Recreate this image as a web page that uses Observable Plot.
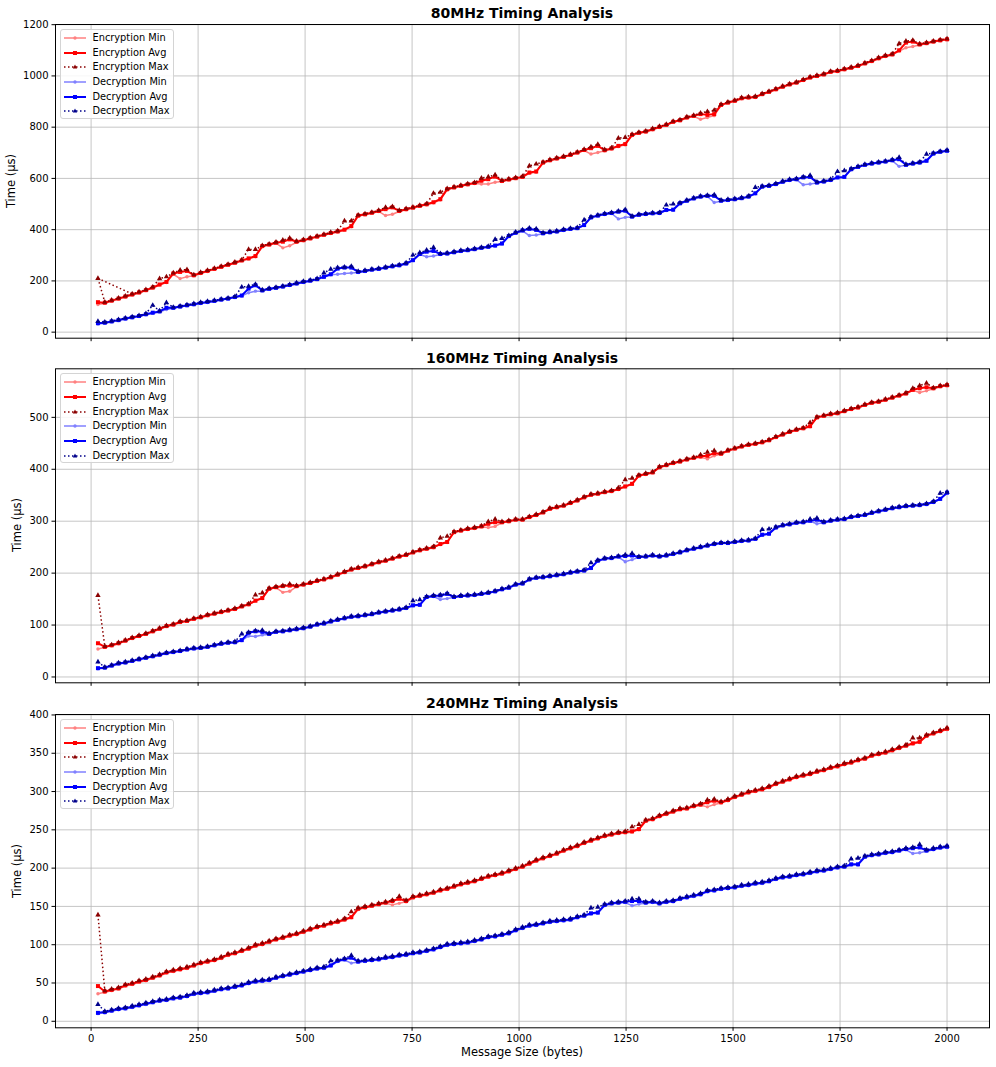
<!DOCTYPE html>
<html><head><meta charset="utf-8">
<script src="https://cdn.jsdelivr.net/npm/d3@7"></script>
<script src="https://cdn.jsdelivr.net/npm/@observablehq/plot@0.6"></script>
<style>
html,body{margin:0;padding:0;background:#fff;overflow:hidden;}
#fig{position:relative;width:996px;height:1067px;font-family:"DejaVu Sans",sans-serif;color:#000;}
#fig svg.plotpanel{position:absolute;left:0;}
.title{position:absolute;font-weight:bold;font-size:14px;line-height:1;transform:translate(-50%,-50%);white-space:nowrap;}
.ylabel{position:absolute;font-size:11.5px;line-height:1;transform:translate(-50%,-50%) rotate(-90deg);white-space:nowrap;}
.xlabel{position:absolute;font-size:11.5px;line-height:1;transform:translate(-50%,-50%);white-space:nowrap;}
.legend{position:absolute;width:114px;height:90px;border:1px solid #d4d4d4;border-radius:3px;background:rgba(255,255,255,0.85);box-sizing:border-box;}
.legend .item{position:absolute;left:0;height:12px;width:112px;}
.legend .item svg{position:absolute;left:2.5px;top:1px;}
.legend .item span{position:absolute;left:31.5px;top:0;font-size:9.8px;line-height:12px;white-space:nowrap;}
</style>
</head><body>
<div id="fig"></div>
<script>
const sizes = [
16,32,48,64,80,96,112,128,
144,160,176,192,208,224,240,256,
272,288,304,320,336,352,368,384,
400,416,432,448,464,480,496,512,
528,544,560,576,592,608,624,640,
656,672,688,704,720,736,752,768,
784,800,816,832,848,864,880,896,
912,928,944,960,976,992,1008,1024,
1040,1056,1072,1088,1104,1120,1136,1152,
1168,1184,1200,1216,1232,1248,1264,1280,
1296,1312,1328,1344,1360,1376,1392,1408,
1424,1440,1456,1472,1488,1504,1520,1536,
1552,1568,1584,1600,1616,1632,1648,1664,
1680,1696,1712,1728,1744,1760,1776,1792,
1808,1824,1840,1856,1872,1888,1904,1920,
1936,1952,1968,1984,2000];

// ---- 80 MHz ----
const enc80Min = [
108,113,121,129,137,145,153,162,
172,184,194,226,209,216,220,229,
237,245,253,261,269,278,285,294,
333,340,347,329,337,351,357,364,
371,378,385,391,398,411,452,458,
464,471,455,460,471,478,484,491,
497,505,516,555,563,569,575,580,
578,578,585,588,594,599,604,620,
624,660,669,676,682,690,699,709,
695,701,708,715,724,731,767,776,
781,790,799,807,819,825,836,842,
831,838,845,885,894,901,911,914,
916,927,936,946,956,965,972,982,
992,998,1004,1014,1017,1024,1030,1037,
1047,1056,1067,1076,1082,1097,1110,1115,
1121,1126,1132,1137,1141];
const enc80Avg = [
117,115,123,131,139,147,155,164,
174,186,196,229,235,239,222,231,
239,247,255,263,271,280,288,297,
336,342,349,353,362,353,359,366,
373,380,387,393,400,414,455,460,
466,473,480,487,473,480,486,493,
499,507,519,558,565,571,577,582,
591,597,607,590,596,601,606,623,
627,662,671,678,684,692,701,711,
718,727,710,717,727,734,770,778,
783,792,801,809,821,827,838,844,
851,848,851,887,896,903,913,916,
918,929,938,948,958,967,974,984,
994,1000,1006,1016,1019,1026,1032,1039,
1049,1058,1069,1078,1084,1100,1130,1134,
1123,1128,1134,1139,1143];
const enc80Max = [
210,117,125,133,141,149,157,166,
176,209,216,231,242,244,224,233,
241,249,257,265,273,282,323,323,
338,344,351,359,367,355,361,368,
375,382,389,395,434,434,457,462,
468,475,487,490,475,482,488,495,
501,542,546,560,567,573,579,584,
601,606,614,592,598,603,608,649,
656,664,673,680,686,694,703,713,
723,733,712,719,757,760,772,780,
785,794,803,811,823,829,840,846,
855,861,866,889,898,905,915,918,
920,931,940,950,960,969,976,986,
996,1002,1008,1018,1021,1028,1034,1041,
1051,1060,1071,1080,1086,1126,1136,1139,
1125,1130,1136,1141,1145];
const enc80MaxExtraLink = [16, 96];
const dec80Min = [
32,35,40,45,51,56,61,68,
74,79,88,93,98,103,107,112,
116,120,125,129,135,141,154,160,
161,167,171,176,182,188,194,199,
205,214,224,226,229,231,233,237,
242,245,250,255,259,266,279,303,
294,297,303,305,310,315,318,322,
327,331,336,344,373,386,395,377,
379,384,388,391,397,401,404,416,
446,453,459,463,442,448,449,456,
459,462,463,475,476,501,511,520,
527,530,506,511,514,517,521,527,
540,566,569,576,585,592,595,575,
578,582,586,592,602,604,634,643,
651,656,660,664,669,647,651,656,
660,667,695,702,706];
const dec80Avg = [
35,37,42,47,53,58,63,70,
76,81,95,95,100,105,109,114,
118,122,127,131,137,143,170,183,
163,169,173,178,184,190,196,201,
207,216,226,248,252,252,235,239,
244,247,252,257,261,268,281,305,
314,317,305,307,312,317,320,324,
329,333,338,346,375,388,397,403,
399,386,390,393,399,403,406,418,
448,455,461,465,470,474,451,458,
461,464,465,477,478,503,513,522,
529,532,532,513,516,519,523,529,
542,568,571,578,587,594,597,604,
606,584,588,594,604,606,636,645,
653,658,662,666,671,675,653,658,
662,669,697,704,708];
const dec80Max = [
42,39,44,49,55,60,65,72,
105,83,115,97,102,107,111,116,
120,124,129,133,139,176,179,187,
165,171,175,180,186,192,198,203,
209,231,246,252,254,257,237,241,
246,249,254,259,263,270,301,310,
320,331,307,309,314,319,322,326,
331,335,362,366,377,390,399,406,
403,388,392,395,401,405,408,438,
450,457,463,467,472,478,453,460,
463,466,467,496,500,505,515,524,
531,534,536,515,518,521,525,531,
565,570,573,580,589,596,599,606,
612,586,590,596,627,630,638,647,
655,660,664,668,673,682,655,660,
664,695,699,706,710];

// ---- 160 MHz ----
const enc160Min = [
54,57,60,64,69,74,78,82,
87,92,97,100,105,107,111,114,
118,121,124,127,130,135,139,146,
151,169,172,163,165,174,177,180,
184,187,191,196,201,206,209,212,
216,220,223,227,231,234,239,243,
246,249,255,259,278,281,284,286,
289,288,290,297,299,302,302,307,
311,316,323,326,329,334,339,345,
350,352,355,357,361,366,371,387,
390,393,403,407,411,414,418,421,
423,420,426,429,435,439,443,446,
448,451,455,461,466,471,475,478,
482,499,502,505,507,511,515,518,
523,527,529,533,537,541,545,552,
548,551,555,559,561];
const enc160Avg = [
65,58,61,65,70,75,79,83,
88,93,98,101,106,108,112,115,
119,122,125,128,131,136,140,147,
152,170,173,175,176,175,178,181,
185,188,192,197,202,207,210,213,
217,221,224,228,232,235,240,244,
247,250,256,260,279,282,285,287,
290,295,298,298,300,303,303,308,
312,317,324,327,330,335,340,346,
351,353,356,358,362,367,372,388,
391,394,404,408,412,415,419,422,
425,426,431,430,436,440,444,447,
449,452,456,462,467,472,476,479,
483,500,503,506,508,512,516,519,
524,528,530,534,538,542,546,553,
556,558,556,560,562];
const enc160Max = [
157,59,62,66,71,76,80,84,
89,94,99,102,107,109,113,116,
120,123,126,129,132,137,141,158,
162,171,174,176,179,176,179,182,
186,189,193,198,203,208,211,214,
218,222,225,229,233,236,241,245,
248,251,268,271,280,283,286,288,
291,299,304,299,301,304,304,309,
313,318,325,328,331,336,341,347,
352,354,357,359,364,380,383,389,
392,395,405,409,413,416,420,423,
428,433,436,431,437,441,445,448,
450,453,457,463,468,473,477,480,
490,501,504,507,509,513,517,520,
525,529,531,535,539,543,547,556,
561,566,557,561,563];
const dec160Min = [
16,17,21,25,27,30,33,36,
39,42,45,47,49,52,54,55,
57,60,63,65,66,70,79,78,
81,82,86,87,89,91,93,96,
100,102,106,109,112,115,116,118,
120,123,125,127,129,132,137,138,
153,155,149,151,153,155,156,157,
159,161,164,168,171,177,179,187,
190,191,193,195,197,200,202,204,
209,223,227,228,231,222,226,230,
231,233,231,233,236,239,243,246,
249,252,255,257,257,259,261,262,
265,273,275,287,291,293,296,297,
300,295,297,300,302,303,307,309,
311,315,318,321,324,326,328,329,
330,332,336,342,354];
const dec160Avg = [
17,18,22,26,28,31,34,37,
40,43,46,48,50,53,55,56,
58,61,64,66,67,71,85,88,
87,83,87,88,90,92,94,97,
101,103,107,110,113,116,117,119,
121,124,126,128,130,133,138,139,
154,156,157,160,154,156,157,158,
160,162,165,169,172,178,180,188,
191,192,194,196,198,201,203,205,
210,224,228,229,232,233,234,231,
232,234,232,234,237,240,244,247,
250,253,256,258,258,260,262,263,
266,274,276,288,292,294,297,298,
301,303,298,301,303,304,308,310,
312,316,319,322,325,327,329,330,
331,333,337,343,355];
const dec160Max = [
29,19,23,27,29,32,35,38,
41,44,47,49,51,54,56,57,
59,62,65,67,68,83,86,89,
90,84,88,89,91,93,95,98,
102,104,108,111,114,117,118,120,
122,125,127,129,131,134,147,149,
155,157,158,161,155,157,158,159,
161,163,166,170,173,179,181,189,
192,193,195,197,199,202,204,206,
220,225,229,230,233,235,238,232,
233,235,233,235,238,241,245,248,
251,254,257,259,259,261,263,264,
267,284,285,289,293,295,298,299,
304,306,299,302,304,305,309,311,
313,317,320,323,326,328,330,331,
332,334,338,354,356];

// ---- 240 MHz ----
const enc240Min = [
36,38,40,42,46,48,51,53,
56,59,63,65,67,69,72,75,
77,79,82,86,88,91,94,98,
100,103,106,108,111,113,116,119,
122,124,127,129,132,135,146,148,
150,152,154,152,154,156,161,163,
165,167,170,172,175,178,180,182,
185,188,190,192,195,198,201,205,
209,212,215,218,222,225,228,232,
235,238,241,243,245,246,247,250,
261,263,267,270,273,276,277,280,
282,280,283,285,288,292,295,298,
300,302,305,309,312,315,318,320,
322,325,327,330,332,335,337,340,
342,346,348,350,353,356,359,362,
364,372,375,378,381];
const enc240Avg = [
46,39,41,43,47,49,52,54,
57,60,64,66,68,70,73,76,
78,80,83,87,89,92,95,99,
101,104,107,109,112,114,117,120,
123,125,128,130,133,136,147,149,
151,153,155,157,160,157,162,164,
166,168,171,173,176,179,181,183,
186,189,191,193,196,199,202,206,
210,213,216,219,223,226,229,233,
236,239,242,244,246,247,248,251,
262,264,268,271,274,277,278,281,
283,286,288,286,289,293,296,299,
301,303,306,310,313,316,319,321,
323,326,328,331,333,336,338,341,
343,347,349,351,354,357,360,363,
365,373,376,379,382];
const enc240Max = [
139,40,42,44,48,50,53,55,
58,61,65,67,69,71,74,77,
79,81,84,88,90,93,96,100,
102,105,108,110,113,115,118,121,
124,126,129,131,134,143,148,150,
152,154,156,158,163,158,163,165,
167,169,172,174,177,180,182,184,
187,190,192,194,197,200,203,207,
211,214,217,220,224,227,230,234,
237,240,243,245,247,248,254,257,
263,265,269,272,275,278,279,282,
284,289,290,287,290,294,297,300,
302,304,307,311,314,317,320,322,
324,327,329,332,334,337,339,342,
344,348,350,352,355,358,361,370,
370,374,377,380,383];
const dec240Min = [
10,11,13,15,16,18,20,22,
24,26,27,29,30,32,35,36,
37,39,41,42,44,46,49,51,
52,53,56,58,60,62,64,66,
68,69,72,78,80,76,77,78,
79,80,82,83,85,86,88,89,
91,93,96,99,100,101,102,104,
106,109,110,112,114,118,121,124,
125,127,129,130,131,132,135,137,
140,141,151,153,154,155,151,153,
154,155,153,155,156,159,161,163,
165,169,170,172,173,174,176,177,
179,180,182,185,187,188,190,191,
193,195,196,198,200,201,204,204,
214,216,217,219,220,222,224,219,
220,222,224,226,227];
const dec240Avg = [
11,12,14,16,17,19,21,23,
25,27,28,30,31,33,36,37,
38,40,42,43,45,47,50,52,
53,54,57,59,61,63,65,67,
69,70,73,79,81,83,78,79,
80,81,83,84,86,87,89,90,
92,94,97,100,101,102,103,105,
107,110,111,113,115,119,122,125,
126,128,130,131,132,133,136,138,
141,142,152,154,155,156,157,157,
155,156,154,156,157,160,162,164,
166,170,171,173,174,175,177,178,
180,181,183,186,188,189,191,192,
194,196,197,199,201,202,205,205,
215,217,218,220,221,223,225,226,
227,223,225,227,228];
const dec240Max = [
22,13,15,17,18,20,22,24,
26,28,29,31,32,34,37,38,
39,41,43,44,46,48,51,53,
54,55,58,60,62,64,66,68,
70,71,79,80,82,86,79,80,
81,82,84,85,87,88,90,91,
93,95,98,101,102,103,104,106,
108,111,112,114,116,120,123,126,
127,129,131,132,133,134,137,139,
148,149,153,155,156,157,160,160,
156,157,155,157,158,161,163,165,
167,171,172,174,175,176,178,179,
181,182,184,187,189,190,192,193,
195,197,198,200,202,203,212,213,
216,218,219,221,222,224,226,227,
231,224,226,228,229];

const xTicks = [0,250,500,750,1000,1250,1500,1750,2000];
const yTicks80 = [0,200,400,600,800,1000,1200];
const yTicks160 = [0,100,200,300,400,500];
const yTicks240 = [0,50,100,150,200,250,300,350,400];
const seriesNames = ["Encryption Min","Encryption Avg","Encryption Max","Decryption Min","Decryption Avg","Decryption Max"];
const panelTitles = ["80MHz Timing Analysis","160MHz Timing Analysis","240MHz Timing Analysis"];
const yLabel = "Time (\u03bcs)";
const xLabel = "Message Size (bytes)";

const seriesStyle = {
  "Encryption Min": {color:"#ff8080", width:1.5, dash:null, symbol:"circle", r:1.7},
  "Encryption Avg": {color:"#ff0000", width:2, dash:null, symbol:"square", r:2.25},
  "Encryption Max": {color:"#8b0000", width:1.5, dash:"1.5,2.5", symbol:"triangle", r:2},
  "Decryption Min": {color:"#8080ff", width:1.5, dash:null, symbol:"circle", r:1.7},
  "Decryption Avg": {color:"#0000ff", width:2, dash:null, symbol:"square", r:2.25},
  "Decryption Max": {color:"#00008b", width:1.5, dash:"1.5,2.5", symbol:"triangle", r:2}
};

const panels = [
  {title:panelTitles[0], top:0, height:344, mt:24, mb:6.3, ydom:[-23.6,1200.7], yticks:yTicks80, xlabels:false,
   series:[enc80Min,enc80Avg,enc80Max,dec80Min,dec80Avg,dec80Max], extra:enc80MaxExtraLink, yl:[12.3,180.8], tl:13},
  {title:panelTitles[1], top:344, height:346, mt:24.3, mb:7.7, ydom:[-11.2,593.5], yticks:yTicks160, xlabels:false,
   series:[enc160Min,enc160Avg,enc160Max,dec160Min,dec160Avg,dec160Max], extra:null, yl:[18.3,525.3], tl:358},
  {title:panelTitles[2], top:690, height:377, mt:24, mb:39.7, ydom:[-8.5,400.6], yticks:yTicks240, xlabels:true,
   series:[enc240Min,enc240Avg,enc240Max,dec240Min,dec240Avg,dec240Max], extra:null, yl:[18.3,870.7], tl:702.8}
];

const fig = document.getElementById("fig");
const ML = 55, MR = 7;

function div(cls, text, x, y){
  const d = document.createElement("div");
  d.className = cls; d.textContent = text;
  d.style.left = x + "px"; d.style.top = y + "px";
  fig.appendChild(d); return d;
}

function legendSample(st){
  const ns = "http://www.w3.org/2000/svg";
  const s = document.createElementNS(ns,"svg");
  s.setAttribute("width","24"); s.setAttribute("height","10");
  const l = document.createElementNS(ns,"line");
  l.setAttribute("x1","0"); l.setAttribute("x2","22"); l.setAttribute("y1","5"); l.setAttribute("y2","5");
  l.setAttribute("stroke",st.color); l.setAttribute("stroke-width",st.width);
  if (st.dash) l.setAttribute("stroke-dasharray",st.dash);
  s.appendChild(l);
  let m;
  if (st.symbol==="circle"){ m=document.createElementNS(ns,"circle"); m.setAttribute("cx","11"); m.setAttribute("cy","5"); m.setAttribute("r","1.7"); }
  else if (st.symbol==="square"){ m=document.createElementNS(ns,"rect"); m.setAttribute("x","9"); m.setAttribute("y","3"); m.setAttribute("width","4"); m.setAttribute("height","4"); }
  else { m=document.createElementNS(ns,"path"); m.setAttribute("d","M11,2.6L13.2,6.6L8.8,6.6Z"); }
  m.setAttribute("fill",st.color);
  s.appendChild(m);
  return s;
}

panels.forEach(p => {
  const marks = [
    Plot.gridX(xTicks, {stroke:"#b8b8b8", strokeOpacity:1, strokeWidth:0.8}),
    Plot.gridY(p.yticks, {stroke:"#b8b8b8", strokeOpacity:1, strokeWidth:0.8})
  ];
  seriesNames.forEach((name, k) => {
    const st = seriesStyle[name];
    const vals = p.series[k];
    const rows = sizes.map((s, i) => ({size:s, v:vals[i]}));
    const lineOpts = {x:"size", y:"v", stroke:st.color, strokeWidth:st.width, strokeLinejoin:"round"};
    if (st.dash) { lineOpts.strokeDasharray = st.dash; lineOpts.strokeLinecap = "butt"; }
    marks.push(Plot.line(rows, lineOpts));
    if (p.extra && name === "Encryption Max") {
      marks.push(Plot.line(rows.filter(d => p.extra.includes(d.size)), lineOpts));
    }
    marks.push(Plot.dot(rows, {x:"size", y:"v", symbol:st.symbol, r:st.r, fill:st.color, stroke:"none"}));
  });
  marks.push(Plot.axisX(xTicks, {tickSize:3.5, tickPadding:3.5, label:null,
    tickFormat: p.xlabels ? (d => String(d)) : (() => ""), stroke:"black", fill:"black"}));
  marks.push(Plot.axisY(p.yticks, {tickSize:3.5, tickPadding:3.5, label:null,
    tickFormat: d => String(d), stroke:"black", fill:"black"}));
  marks.push(Plot.frame({stroke:"black", strokeWidth:1}));

  const svg = Plot.plot({
    width:996, height:p.height,
    marginLeft:ML, marginRight:MR, marginTop:p.mt, marginBottom:p.mb,
    style:{fontFamily:"DejaVu Sans", fontSize:"10px", background:"transparent", color:"black", overflow:"visible"},
    x:{domain:[-83.2,2099.2], axis:null},
    y:{domain:p.ydom, axis:null},
    marks
  });
  svg.classList.add("plotpanel");
  svg.style.top = p.top + "px";
  fig.appendChild(svg);

  div("title", p.title, (ML + 996 - MR)/2, p.tl);
  div("ylabel", yLabel, p.yl[0], p.yl[1]);

  const axTop = p.top + p.mt;
  const lg = document.createElement("div");
  lg.className = "legend";
  lg.style.left = "60px"; lg.style.top = (axTop + 5) + "px";
  seriesNames.forEach((name, k) => {
    const it = document.createElement("div");
    it.className = "item";
    it.style.top = (2 + k*14.65) + "px";
    it.appendChild(legendSample(seriesStyle[name]));
    const sp = document.createElement("span"); sp.textContent = name;
    it.appendChild(sp);
    lg.appendChild(it);
  });
  fig.appendChild(lg);
});
div("xlabel", xLabel, (ML + 996 - MR)/2, 1053);
</script>
</body></html>
